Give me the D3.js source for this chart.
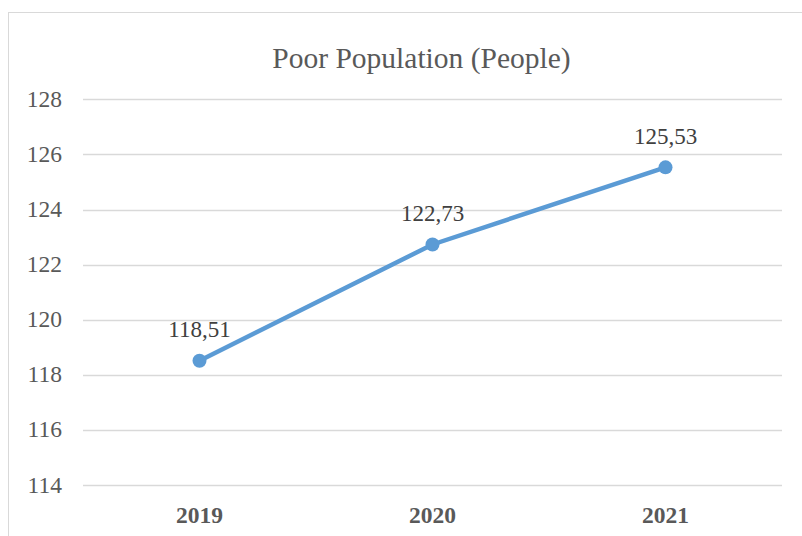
<!DOCTYPE html>
<html><head><meta charset="utf-8">
<script src="https://cdn.jsdelivr.net/npm/d3@7"></script>
<style>body{margin:0;background:#fff}svg{display:block}</style>
</head><body>
<svg id="c" width="802" height="536"></svg>
<script>
const categories = ["2019", "2020", "2021"];
const values = [118.51, 122.73, 125.53];
const valueLabels = ["118,51", "122,73", "125,53"];
const yTicks = [114, 116, 118, 120, 122, 124, 126, 128];
const title = "Poor Population (People)";

const svg = d3.select("#c");
const font = "'Liberation Serif','Times New Roman',serif";
const grey = "#595959";

// chart border
svg.append("rect").attr("x", 8.5).attr("y", 12.5).attr("width", 830).attr("height", 560)
  .attr("fill", "#fff").attr("stroke", "#d9d9d9").attr("stroke-width", 1);

const x = d3.scaleBand().domain(categories).range([83, 782]);
const y = d3.scaleLinear().domain([114, 128]).range([485, 99.3]);

// gridlines
svg.append("g").selectAll("line").data(yTicks).join("line")
  .attr("x1", 83).attr("x2", 782)
  .attr("y1", d => Math.round(y(d)) + 0.5).attr("y2", d => Math.round(y(d)) + 0.5)
  .attr("stroke", "#d9d9d9").attr("stroke-width", 1.3);

// y axis labels
const yAxis = d3.axisLeft(y).tickValues(yTicks).tickSize(0).tickPadding(0);
const gy = svg.append("g").attr("transform", "translate(62,0)").call(yAxis);
gy.select(".domain").remove();
gy.selectAll("text").attr("font-family", font).attr("font-size", 23.5).attr("fill", grey).attr("dy", "0.3em");

// x axis labels
const xAxis = d3.axisBottom(x).tickSize(0).tickPadding(0);
const gx = svg.append("g").attr("transform", "translate(0,523)").call(xAxis);
gx.select(".domain").remove();
gx.selectAll("text").attr("font-family", font).attr("font-size", 23.5).attr("font-weight", "bold")
  .attr("fill", grey).attr("dy", "0");

// title
svg.append("text").attr("x", 421.5).attr("y", 68).attr("text-anchor", "middle")
  .attr("font-family", font).attr("font-size", 29.5).attr("fill", grey).text(title);

const data = categories.map((c, i) => ({c, v: values[i], l: valueLabels[i]}));
const cx = d => x(d.c) + x.bandwidth() / 2;

svg.append("path").datum(data)
  .attr("d", d3.line().x(cx).y(d => y(d.v)))
  .attr("fill", "none").attr("stroke", "#5B9BD5").attr("stroke-width", 4.5).attr("stroke-linecap", "round");

svg.append("g").selectAll("circle").data(data).join("circle")
  .attr("cx", cx).attr("cy", d => y(d.v)).attr("r", 7).attr("fill", "#5B9BD5");

svg.append("g").selectAll("text").data(data).join("text")
  .attr("x", cx).attr("y", d => y(d.v) - 23.5).attr("text-anchor", "middle")
  .attr("font-family", font).attr("font-size", 23).attr("fill", "#404040").text(d => d.l);
</script>
</body></html>
